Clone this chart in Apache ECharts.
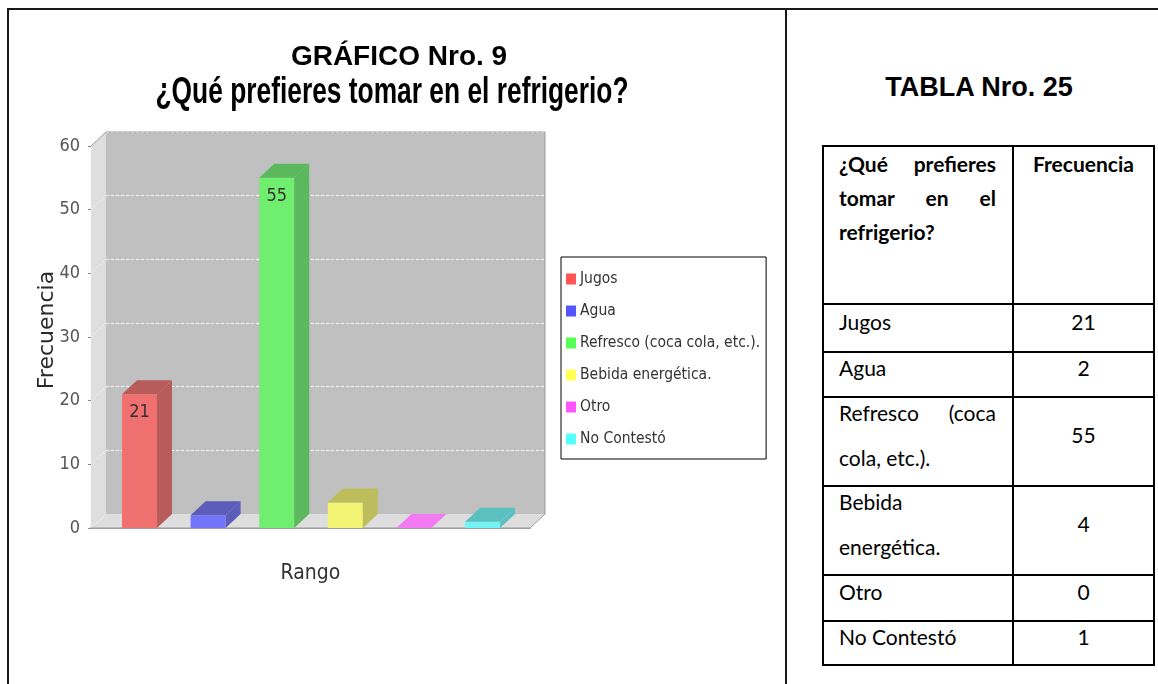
<!DOCTYPE html>
<html lang="es">
<head>
<meta charset="utf-8">
<title>GRÁFICO Nro. 9</title>
<script src="https://cdn.jsdelivr.net/npm/echarts@6.0.0/dist/echarts.min.js"></script>
<style>
    html, body { margin: 0; padding: 0; background: #fff; }
    body { position: relative; width: 1158px; height: 684px; overflow: hidden; }
    #chart { position: absolute; left: 0; top: 0; width: 786px; height: 684px; }
    .rule { position: absolute; background: #1a1a1a; }
    #tableTitle {
        position: absolute; left: 788px; width: 382px; top: 74px;
        text-align: center; color: #000;
        font: bold 27px 'Liberation Sans', Arial, sans-serif; line-height: 27px;
    }
    #freqTable {
        position: absolute; left: 822px; top: 145px; width: 331px;
        border-collapse: collapse; table-layout: fixed;
        font-family: Lato, 'Open Sans', sans-serif; font-size: 21px; color: #000;
    }
    #freqTable td { border: 2px solid #000; padding: 0 16px 0 15px; }
    #freqTable tr.head td { vertical-align: top; line-height: 34px; font-weight: bold; }
    #freqTable tr.body td { vertical-align: middle; line-height: 45px; }
    #freqTable td.name { text-align: justify; }
    #freqTable td.value { text-align: center; padding: 0; }
    #freqTable tr.body td div { position: relative; top: -7px; margin: -6px 0; }
</style>
</head>
<body>
<div id="chart"></div>
<div class="rule" style="left:7px; top:8px; width:1151px; height:2px;"></div>
<div class="rule" style="left:7px; top:8px; width:2px; height:676px;"></div>
<div class="rule" style="left:785px; top:8px; width:2px; height:676px;"></div>
<div id="tableTitle">TABLA Nro. 25</div>
<table id="freqTable">
    <colgroup><col style="width:190px"><col style="width:141px"></colgroup>
    <tbody id="freqBody"></tbody>
</table>
<script>
const categories = ['Jugos', 'Agua', 'Refresco (coca cola, etc.).', 'Bebida energética.', 'Otro', 'No Contestó']
const frequencies = [21, 2, 55, 4, 0, 1]
const axisCategories = ['Rango']
const yTicks = [0, 10, 20, 30, 40, 50, 60]

const legendColors = ['#ff5555', '#5555ff', '#55ff55', '#ffff55', '#ff55ff', '#55ffff']
const frontColors = ['#f06f6f', '#7474fb', '#70ee70', '#f3f373', '#f47af4', '#72f4f4']
const shadeColors = ['#b85b5b', '#5c5cba', '#5cb85c', '#bdbd5c', '#c062c0', '#5cc0c0']

const DEPTH_X = 15
const DEPTH_Y = 14
const BAR_OFFSET = 0.0706
const BAR_STEP = 0.1563
const BAR_WIDTH = 0.0797
const CONDENSED = "'DejaVu Sans Condensed', 'DejaVu Sans', sans-serif"

// table on the right, built from the same arrays
const headRowHeight = 158
const rowHeights = [48, 45, 89, 89, 46, 44]
const tbody = document.getElementById('freqBody')
tbody.innerHTML =
    `<tr class="head" style="height:${headRowHeight}px"><td class="name">¿Qué prefieres tomar en el refrigerio?</td><td class="value" style="text-align:center">Frecuencia</td></tr>` +
    categories.map((name, i) =>
        `<tr class="body" style="height:${rowHeights[i]}px"><td class="name"><div>${name}</div></td><td class="value"><div>${frequencies[i]}</div></td></tr>`
    ).join('')

const subtitle = '¿Qué prefieres tomar en el refrigerio?'
const measureCtx = document.createElement('canvas').getContext('2d')
measureCtx.font = 'bold 37px "Liberation Sans", Arial, sans-serif'
const subtitleScale = 473 / measureCtx.measureText(subtitle).width

const chart = echarts.init(document.getElementById('chart'))

const renderWalls = (params, api) => {
    const cs = params.coordSys
    const x0 = cs.x
    const y0 = cs.y
    const x1 = cs.x + cs.width
    const y1 = cs.y + cs.height
    const children = [
        {
            type: 'polygon',
            shape: { points: [[x0, y0], [x0 + DEPTH_X, y0 - DEPTH_Y], [x0 + DEPTH_X, y1 - DEPTH_Y], [x0, y1]] },
            style: { fill: '#dedede' }
        },
        {
            type: 'polygon',
            shape: { points: [[x0, y1], [x0 + DEPTH_X, y1 - DEPTH_Y], [x1 + DEPTH_X, y1 - DEPTH_Y], [x1, y1]] },
            style: { fill: '#dedede' }
        }
    ]
    yTicks.forEach(v => {
        const y = api.coord([0, v])[1]
        children.push({
            type: 'line',
            shape: { x1: x0, y1: y, x2: x0 + DEPTH_X, y2: y - DEPTH_Y },
            style: { stroke: '#f6f6f6', lineWidth: 1, lineDash: [2, 2] }
        })
    })
    children.push({
        type: 'polyline',
        shape: { points: [[x0, y0], [x0 + DEPTH_X, y0 - DEPTH_Y], [x1 + DEPTH_X, y0 - DEPTH_Y], [x1 + DEPTH_X, y1 - DEPTH_Y], [x1, y1], [x0, y1]] },
        style: { stroke: '#9a9a9a', fill: null, lineWidth: 1 }
    })
    return { type: 'group', children }
}

const makeBar = (i) => (params, api) => {
    const value = api.value(1)
    const base = api.coord([api.value(0), 0])
    const top = api.coord([api.value(0), value])
    const band = api.size([1, 0])[0]
    const x = base[0] - band / 2 + band * (BAR_OFFSET + i * BAR_STEP)
    const w = band * BAR_WIDTH
    const yb = base[1]
    const yt = top[1]
    // a zero bar only shows its lid, drawn in the bright colour
    const lidColor = value === 0 ? frontColors[i] : shadeColors[i]
    const children = [
        {
            type: 'rect',
            shape: { x: x, y: yt, width: w, height: yb - yt },
            style: { fill: frontColors[i] }
        },
        {
            type: 'polygon',
            shape: { points: [[x + w, yt], [x + w + DEPTH_X, yt - DEPTH_Y], [x + w + DEPTH_X, yb - DEPTH_Y], [x + w, yb]] },
            style: { fill: shadeColors[i] }
        },
        {
            type: 'polygon',
            shape: { points: [[x, yt], [x + DEPTH_X, yt - DEPTH_Y], [x + w + DEPTH_X, yt - DEPTH_Y], [x + w, yt]] },
            style: { fill: lidColor }
        }
    ]
    if (yb - yt > 30) {
        children.push({
            type: 'text',
            x: x + w / 2,
            y: yt + 18,
            style: {
                text: String(value),
                font: `18px ${CONDENSED}`,
                fill: '#333',
                align: 'center',
                verticalAlign: 'middle'
            }
        })
    }
    return { type: 'group', children }
}

const option = {
    animation: false,
    graphic: [
        {
            type: 'text',
            x: 399,
            y: 57,
            style: {
                text: 'GRÁFICO Nro. 9',
                font: 'bold 28px "Liberation Sans", Arial, sans-serif',
                fill: '#000',
                align: 'center',
                verticalAlign: 'middle'
            }
        },
        {
            type: 'text',
            x: 392,
            y: 93,
            scaleX: subtitleScale,
            style: {
                text: subtitle,
                font: 'bold 37px "Liberation Sans", Arial, sans-serif',
                fill: '#000',
                align: 'center',
                verticalAlign: 'middle'
            }
        }
    ],
    legend: {
        orient: 'vertical',
        left: 561,
        top: 257,
        padding: [14, 6, 12, 5],
        itemGap: 16,
        itemWidth: 10,
        itemHeight: 11,
        icon: 'rect',
        borderColor: '#000',
        borderWidth: 1,
        backgroundColor: '#fff',
        textStyle: { fontFamily: CONDENSED, fontSize: 15.5, lineHeight: 14, color: '#333', padding: [0, 0, 0, -1] },
        data: categories.map((name, i) => ({ name, itemStyle: { color: legendColors[i] } }))
    },
    grid: [
        { left: 91, top: 146, width: 439, height: 382 },
        { left: 106, top: 132, width: 439, height: 382, show: true, backgroundColor: '#c0c0c0', borderWidth: 0 }
    ],
    xAxis: [
        {
            type: 'category',
            gridIndex: 0,
            data: axisCategories,
            offset: 6,
            axisLine: { lineStyle: { color: '#a0a0a0', width: 2 } },
            axisTick: { alignWithLabel: true, length: 4, lineStyle: { color: '#888' } },
            axisLabel: { show: false },
            name: 'Rango',
            nameLocation: 'middle',
            nameGap: 29,
            nameTextStyle: { fontFamily: CONDENSED, fontSize: 21, color: '#333' }
        },
        {
            type: 'category',
            gridIndex: 1,
            data: axisCategories,
            show: false
        }
    ],
    yAxis: [
        {
            type: 'value',
            gridIndex: 0,
            min: 0,
            max: 60,
            interval: 10,
            axisLine: { show: true, lineStyle: { color: '#888' } },
            axisTick: { show: true, length: 3, lineStyle: { color: '#888' } },
            axisLabel: { fontFamily: CONDENSED, fontSize: 18, color: '#555', margin: 11 },
            splitLine: { show: false },
            name: 'Frecuencia',
            nameLocation: 'middle',
            nameRotate: 90,
            nameGap: 33,
            nameMoveOverlap: false,
            nameTextStyle: { fontFamily: "'DejaVu Sans', sans-serif", fontSize: 22, color: '#2a2a2a', padding: [0, 0, 0, 14] }
        },
        {
            type: 'value',
            gridIndex: 1,
            min: 0,
            max: 60,
            interval: 10,
            axisLine: { show: false },
            axisTick: { show: false },
            axisLabel: { show: false },
            splitLine: { show: true, lineStyle: { color: '#ffffff', type: [3, 2], width: 1 } }
        }
    ],
    series: [
        {
            name: 'walls',
            type: 'custom',
            xAxisIndex: 0,
            yAxisIndex: 0,
            silent: true,
            z: 1,
            data: [[0, 0]],
            renderItem: renderWalls
        },
        ...categories.map((name, i) => ({
            name,
            type: 'custom',
            xAxisIndex: 0,
            yAxisIndex: 0,
            z: 3,
            itemStyle: { color: legendColors[i] },
            encode: { x: 0, y: 1 },
            data: [[0, frequencies[i]]],
            renderItem: makeBar(i)
        }))
    ]
}

chart.setOption(option)
</script>
</body>
</html>
